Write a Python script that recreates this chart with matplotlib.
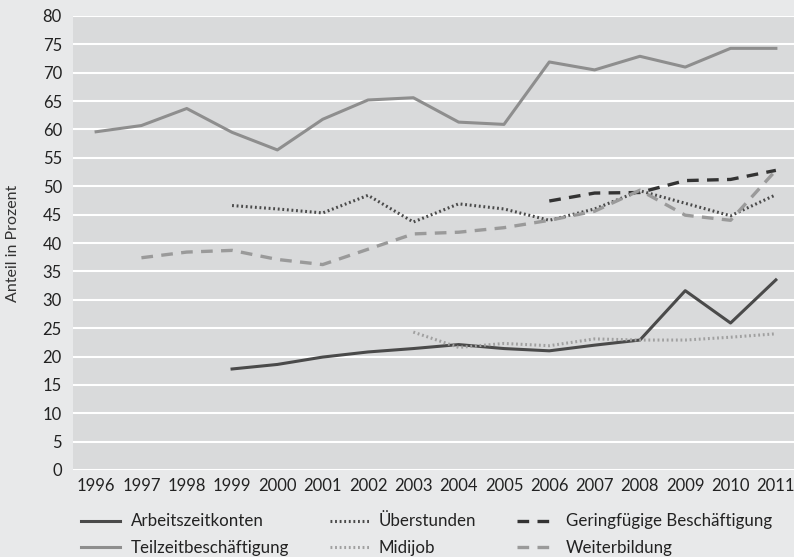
import matplotlib.pyplot as plt
import numpy as np

plt.rcParams['font.family'] = ['Lato', 'DejaVu Sans']

jahre = list(range(1996, 2012))

# Werte (None = kein Wert)
teilzeit = [59.6, 60.7, 63.7, 59.5, 56.4, 61.8, 65.2, 65.6, 61.3, 60.9, 71.9, 70.5, 72.9, 71.0, 74.3, 74.3]
ueberstunden = [None, None, None, 46.6, 46.0, 45.3, 48.4, 43.7, 46.9, 46.0, 44.0, 46.0, 49.2, 47.0, 44.8, 48.5]
geringfuegig = [None] * 10 + [47.4, 48.8, 48.9, 51.0, 51.2, 52.8]
weiterbildung = [None, 37.4, 38.4, 38.7, 37.1, 36.2, 38.9, 41.6, 41.9, 42.7, 44.0, 45.6, 49.3, 44.9, 44.0, 52.8]
arbeitszeitkonten = [None, None, None, 17.8, 18.6, 19.9, 20.8, 21.4, 22.1, 21.4, 21.0, 22.0, 22.9, 31.6, 25.9, 33.5]
midijob = [None] * 7 + [24.3, 21.6, 22.3, 21.9, 23.1, 22.9, 22.9, 23.4, 24.0]


def arr(v):
    return np.array([np.nan if x is None else x for x in v], dtype=float)


fig = plt.figure(figsize=(7.94, 5.57), dpi=100, facecolor='#e8e9ea')
ax = fig.add_axes([73 / 794, 87 / 557, 721 / 794, 454 / 557])
ax.set_facecolor('#d9dadb')

l1, = ax.plot(jahre, arr(arbeitszeitkonten), color='#4a4a4a', lw=2.2, label='Arbeitszeitkonten')
l2, = ax.plot(jahre, arr(teilzeit), color='#8e8e8e', lw=2.2, label='Teilzeitbeschäftigung')
l3, = ax.plot(jahre, arr(ueberstunden), color='#4a4a4a', lw=2.2, ls=(0, (0.6, 0.9)), label='Überstunden')
l4, = ax.plot(jahre, arr(midijob), color='#a0a0a0', lw=2.2, ls=(0, (0.6, 0.9)), label='Midijob')
l5, = ax.plot(jahre, arr(geringfuegig), color='#333333', lw=2.4, ls=(0, (3.5, 2.5)), label='Geringfügige Beschäftigung')
l6, = ax.plot(jahre, arr(weiterbildung), color='#9a9a9a', lw=2.4, ls=(0, (3.5, 2.5)), label='Weiterbildung')

ax.set_xlim(1995.49, 2011.4)
ax.set_ylim(0, 80)
ax.set_yticks(range(0, 81, 5))
ax.set_xticks(jahre)
ax.grid(axis='y', color='white', lw=1.5)
ax.set_axisbelow(True)
for s in ax.spines.values():
    s.set_visible(False)
ax.tick_params(length=0, labelsize=12, colors='#222222')
ax.tick_params(axis='x', pad=6)
ax.tick_params(axis='y', pad=8)
ax.set_ylabel('Anteil in Prozent', fontsize=11.5, color='#333333', labelpad=16)

fig.legend(handles=[l1, l2, l3, l4, l5, l6], ncol=3, loc='upper left',
           bbox_to_anchor=(73 / 794, 1 - 505 / 557), frameon=False, borderpad=0,
           fontsize=12.2, handlelength=2.3, handletextpad=0.6,
           columnspacing=2.4, labelspacing=0.6, labelcolor='#222222')

fig.savefig('out.png', dpi=100, facecolor=fig.get_facecolor())
